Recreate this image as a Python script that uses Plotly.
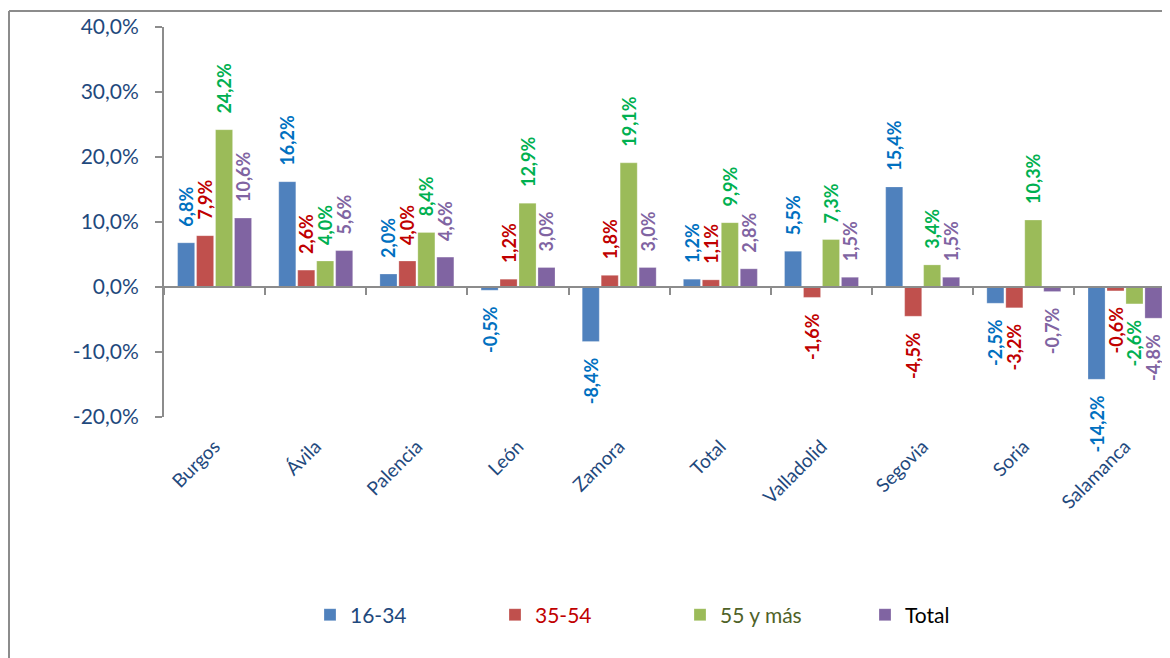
import plotly.graph_objects as go

categories = ["Burgos", "Ávila", "Palencia", "León", "Zamora", "Total",
              "Valladolid", "Segovia", "Soria", "Salamanca"]
s_16_34 = [6.8, 16.2, 2.0, -0.5, -8.4, 1.2, 5.5, 15.4, -2.5, -14.2]
s_35_54 = [7.9, 2.6, 4.0, 1.2, 1.8, 1.1, -1.6, -4.5, -3.2, -0.6]
s_55_mas = [24.2, 4.0, 8.4, 12.9, 19.1, 9.9, 7.3, 3.4, 10.3, -2.6]
s_total = [10.6, 5.6, 4.6, 3.0, 3.0, 2.8, 1.5, 1.5, -0.7, -4.8]
y_ticks = [-20, -10, 0, 10, 20, 30, 40]

series = [
    ("16-34", s_16_34, "#4F81BD", "#0070C0", "#1F497D"),
    ("35-54", s_35_54, "#C0504D", "#C00000", "#C00000"),
    ("55 y más", s_55_mas, "#9BBB59", "#00B050", "#4F6228"),
    ("Total", s_total, "#8064A2", "#8064A2", "#000000"),
]

FONT = "Lato, 'Open Sans', sans-serif"
PAD = "\u00a0" * 3


def fmt(v):
    return f"{v:.1f}".replace(".", ",") + "%"


fig = go.Figure()
for name, vals, col, tcol, lcol in series:
    texts = [PAD + fmt(v) if v >= 0 else fmt(v) + PAD for v in vals]
    fig.add_trace(go.Bar(
        x=categories, y=vals, name=f"<span style='color:{lcol}'>{name}</span>",
        marker=dict(color=col, line=dict(color="rgba(255,255,255,0.5)", width=0.5)),
        text=texts, texttemplate="%{text}", textposition="outside",
        textangle=-90, constraintext="none", cliponaxis=False,
        textfont=dict(color=tcol, size=18, family=FONT, weight="bold"),
        hoverinfo="skip",
    ))

# helper trace for category labels on the bottom axis
fig.add_trace(go.Scatter(
    x=categories, y=[0] * len(categories), xaxis="x2", mode="markers",
    marker=dict(opacity=0), showlegend=False, hoverinfo="skip",
))

W, H = 1162, 650
L, R, T, B = 156, 0, 19, 241
PW, PH = W - L - R, H - T - B
XR = [-0.5, 9.445]
Y0PX = T + PH * 40 / 60  # pixel row of zero


def py(pix):
    return (H - B - pix) / PH


def px(pix):
    return (pix - L) / PW


fig.update_layout(
    width=W, height=H,
    margin=dict(l=L, r=R, t=T, b=B),
    paper_bgcolor="white", plot_bgcolor="white",
    barmode="group", bargap=0.25, bargroupgap=0.1,
    separators=",.",
    font=dict(family=FONT, color="#1F497D"),
    xaxis=dict(
        type="category", categoryorder="array", categoryarray=categories,
        range=XR, anchor="free", position=py(Y0PX),
        showline=True, linecolor="#8C8C8C", linewidth=2,
        ticks="outside", tickson="boundaries", ticklen=7, tickwidth=2,
        tickcolor="#8C8C8C", showticklabels=False, showgrid=False,
        zeroline=False, fixedrange=True,
    ),
    xaxis2=dict(
        type="category", categoryorder="array", categoryarray=categories,
        range=XR, overlaying="x", anchor="y", side="bottom",
        showline=False, showgrid=False, zeroline=False,
        ticks="outside", ticklen=10, tickcolor="rgba(0,0,0,0)",
        tickangle=-45, tickfont=dict(size=19, color="#1F497D", family=FONT),
    ),
    yaxis=dict(
        range=[-20, 40], tickmode="array", tickvals=y_ticks,
        ticktext=[fmt(v) for v in y_ticks],
        showline=True, linecolor="#8C8C8C", linewidth=2,
        ticks="outside", ticklen=7, tickwidth=2, tickcolor="#8C8C8C",
        ticklabelstandoff=12,
        showgrid=False, zeroline=False,
        tickfont=dict(size=21, color="#1F497D", family=FONT),
    ),
    legend=dict(
        orientation="h", x=px(302), xanchor="left", y=py(607), yanchor="middle",
        entrywidth=140, entrywidthmode="pixels",
        font=dict(size=21, family=FONT), bgcolor="rgba(0,0,0,0)",
    ),
    showlegend=True,
)

# chart frame (left and top border)
frame = dict(type="line", xref="paper", yref="paper",
             line=dict(color="#8C8C8C", width=2), layer="below")
fig.add_shape(x0=px(1), x1=px(1), y0=py(H + 20), y1=py(3), **frame)
fig.add_shape(x0=px(1), x1=1.05, y0=py(3), y1=py(3), **frame)

fig.write_html("out.html")
